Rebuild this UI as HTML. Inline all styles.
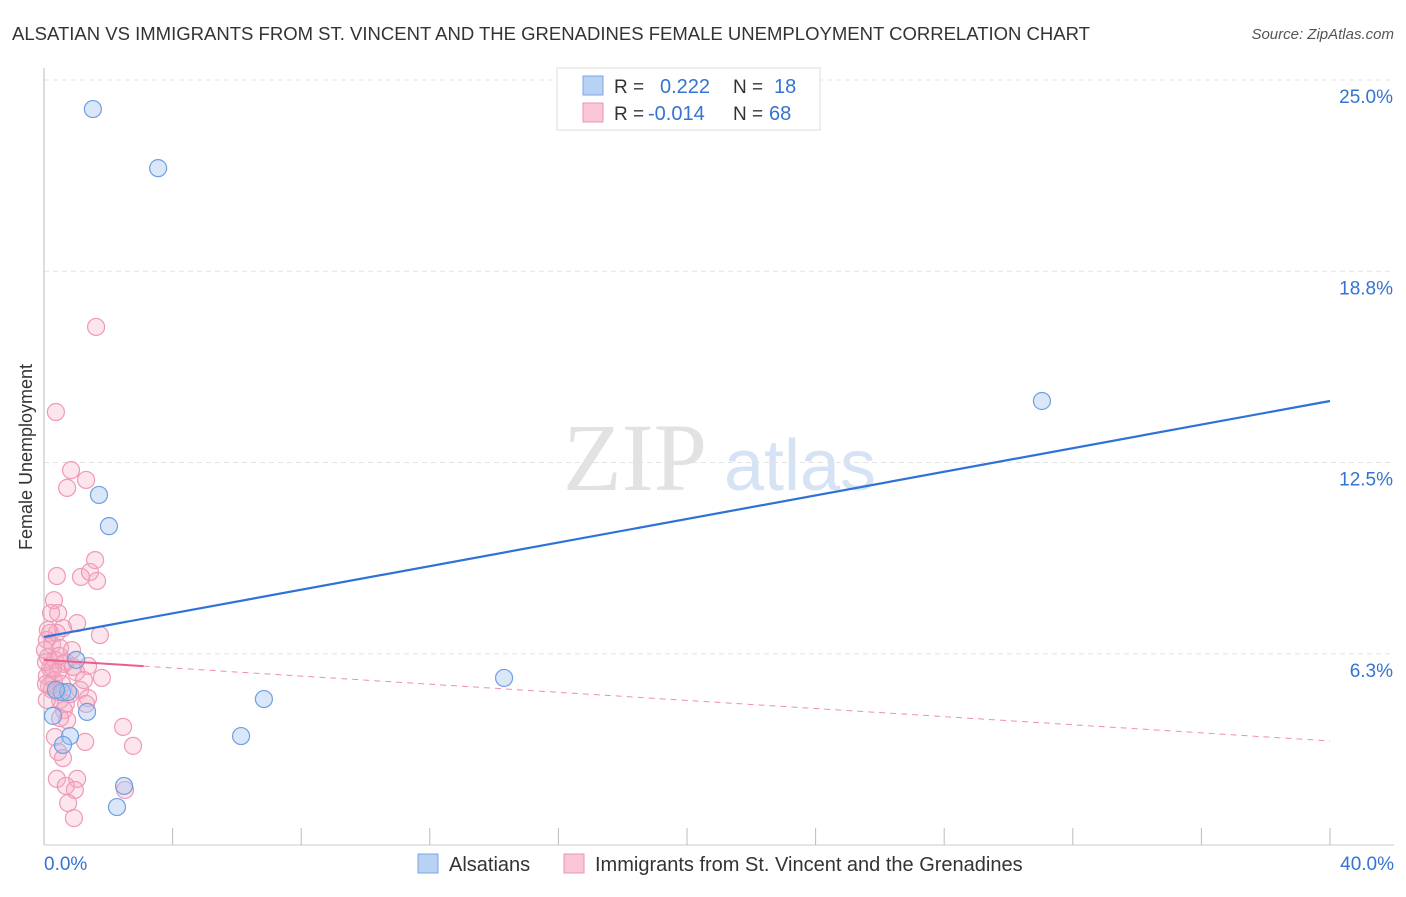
<!DOCTYPE html>
<html><head><meta charset="utf-8"><style>
body{margin:0;background:#fff;font-family:"Liberation Sans",sans-serif;}
</style></head><body>
<svg id="c" width="1406" height="892" xmlns="http://www.w3.org/2000/svg">
<text x="12" y="40" font-size="18" fill="#333" textLength="1078" lengthAdjust="spacingAndGlyphs">ALSATIAN VS IMMIGRANTS FROM ST. VINCENT AND THE GRENADINES FEMALE UNEMPLOYMENT CORRELATION CHART</text>
<text x="1394" y="39" font-size="15" fill="#555" font-style="italic" text-anchor="end">Source: ZipAtlas.com</text>
<text x="32" y="457" font-size="18" fill="#333" text-anchor="middle" transform="rotate(-90 32 457)">Female Unemployment</text>
<g>
<text x="635" y="490" font-size="96" fill="#e2e2e2" font-family="Liberation Serif" text-anchor="middle">ZIP</text>
<text x="800" y="490" font-size="72" fill="#d6e3f5" text-anchor="middle">atlas</text>
</g>
<g id="grid"></g><g id="pts"></g><g id="lines"></g>
<g>
<rect x="557" y="68" width="263" height="62" fill="#fff" stroke="#ddd"/>
<rect x="583" y="76" width="20" height="19" fill="#b8d2f3" stroke="#7aa6e6"/>
<rect x="583" y="103" width="20" height="19" fill="#f9c6d5" stroke="#ee93ae"/>
<text x="614" y="93" font-size="19" fill="#333">R =</text>
<text x="660" y="93" font-size="20" fill="#3473d3">0.222</text>
<text x="733" y="93" font-size="19" fill="#333">N =</text>
<text x="774" y="93" font-size="20" fill="#3473d3">18</text>
<text x="614" y="120" font-size="19" fill="#333">R =</text>
<text x="648" y="120" font-size="20" fill="#3473d3">-0.014</text>
<text x="733" y="120" font-size="19" fill="#333">N =</text>
<text x="769" y="120" font-size="20" fill="#3473d3">68</text>
</g>
<g>
<rect x="418" y="854" width="20" height="19" fill="#b8d2f3" stroke="#7aa6e6"/>
<text x="449" y="871" font-size="20" fill="#333">Alsatians</text>
<rect x="564" y="854" width="20" height="19" fill="#f9c6d5" stroke="#ee93ae"/>
<text x="595" y="871" font-size="20" fill="#333">Immigrants from St. Vincent and the Grenadines</text>
</g>
</svg>
<script>
const yTicks=[25,18.8,12.5,6.3];
const yTickVals=[25,18.75,12.5,6.25];
const xTickLabels=["0.0%","40.0%"];
const blueX=[1.52,3.55,31.04,1.71,2.02,1.0,0.56,0.75,0.28,1.34,14.31,6.84,6.13,0.81,0.59,2.49,2.27,0.37];
const blueY=[24.05,22.12,14.51,11.44,10.42,6.05,5.0,5.0,4.22,4.35,5.46,4.77,3.56,3.56,3.27,1.93,1.24,5.07];
const pinkX=[1.62,0.37,0.84,1.31,0.72,1.59,0.4,1.15,1.43,1.65,0.31,0.44,0.22,1.03,0.59,0.19,0.4,1.74,0.09,0.25,0.5,0.87,0.12,0.34,0.62,1.37,0.19,0.44,1.0,0.09,0.31,1.8,0.56,0.16,1.12,0.4,1.37,0.5,0.68,1.31,0.62,0.72,2.46,0.34,1.28,2.77,0.44,0.59,0.4,1.03,0.68,0.96,2.52,0.75,0.93,0.12,0.06,0.25,0.81,0.03,0.5,0.28,0.68,0.09,1.24,0.47,0.9,0.06];
const pinkY=[16.93,14.15,12.25,11.93,11.67,9.31,8.79,8.76,8.92,8.63,8.0,7.58,7.58,7.25,7.09,6.93,6.93,6.86,6.7,6.54,6.44,6.37,6.14,6.05,5.92,5.85,5.78,5.65,5.65,5.52,5.39,5.46,5.26,5.2,5.07,5.0,4.8,4.74,4.61,4.61,4.41,4.08,3.86,3.53,3.37,3.24,3.04,2.84,2.16,2.16,1.93,1.8,1.8,1.37,0.88,7.03,5.98,5.07,4.93,6.37,4.15,5.78,5.98,4.74,5.39,6.18,5.82,5.26];
const blueTrend=[6.8,14.51];
const pinkTrend=[6.05,3.4];
const NS="http://www.w3.org/2000/svg";
const X=v=>44+v*1286/40, Y=v=>845-v*30.6;
function mk(p,t,a){const e=document.createElementNS(NS,t);for(const k in a)e.setAttribute(k,a[k]);document.getElementById(p).appendChild(e);return e;}
yTickVals.forEach((v,i)=>{
 const g=mk('grid','line',{x1:44,x2:1394,y1:Y(v),y2:Y(v),stroke:'#e3e3e3','stroke-dasharray':'5,4'});
 
 
 const t=mk('grid','text',{x:1393,y:Y(v)+23,'font-size':19,fill:'#3473d3','text-anchor':'end'});
 t.textContent=yTicks[i].toFixed(1)+'%';
 
 
});
const ax=mk('grid','line',{x1:44,x2:44,y1:68,y2:845,stroke:'#bbb'});


const bx=mk('grid','line',{x1:44,x2:1394,y1:845,y2:845,stroke:'#ccc'});


for(let i=0;i<=10;i++){const t=mk('grid','line',{x1:X(i*4),x2:X(i*4),y1:828,y2:845,stroke:'#bbb'});
 
 }
[[X(0),'start',xTickLabels[0]],[1394,'end',xTickLabels[1]]].forEach(a=>{
 const t=mk('grid','text',{x:a[0],y:870,'font-size':19,fill:'#3473d3','text-anchor':a[1]});t.textContent=a[2];
 
 });
pinkX.forEach((v,i)=>{const c=mk('pts','circle',{cx:X(v),cy:Y(pinkY[i]),r:8.5,fill:'rgba(246,170,195,0.3)',stroke:'#ef9ab4','stroke-width':1.2});
 
 });
blueX.forEach((v,i)=>{const c=mk('pts','circle',{cx:X(v),cy:Y(blueY[i]),r:8.5,fill:'rgba(160,195,240,0.4)',stroke:'#6f9fe0','stroke-width':1.2});
 
 });
const bl=mk('lines','line',{x1:X(0),y1:Y(blueTrend[0]),x2:X(40),y2:Y(blueTrend[1]),stroke:'#2f72d6','stroke-width':2.2});


const py=x=>pinkTrend[0]+(pinkTrend[1]-pinkTrend[0])*x/40;
const ps=mk('lines','line',{x1:X(0),y1:Y(py(0)),x2:X(3.1),y2:Y(py(3.1)),stroke:'#e8608a','stroke-width':2});


const pd=mk('lines','line',{x1:X(3.1),y1:Y(py(3.1)),x2:X(40),y2:Y(py(40)),stroke:'#ee8fae','stroke-width':1,'stroke-dasharray':'6,5'});


</script>
</body></html>
